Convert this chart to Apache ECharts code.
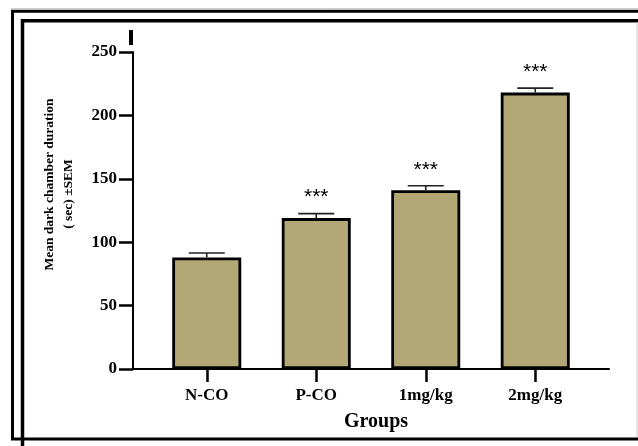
<!DOCTYPE html>
<html>
<head>
<meta charset="utf-8">
<script src="https://cdn.jsdelivr.net/npm/echarts@6/dist/echarts.min.js"></script>
<style>
html,body{margin:0;padding:0;background:#fff;}
#chart{width:638px;height:446px;}
</style>
</head>
<body>
<div id="chart"></div>
<script>
var categories = ['N-CO', 'P-CO', '1mg/kg', '2mg/kg'];
var means = [88, 119, 141, 218];
var sems = [3.5, 3.5, 3.5, 3.5];
var significance = ['', '***', '***', '***'];
var yTicks = [0, 50, 100, 150, 200, 250];

var SERIF = '"Liberation Serif","Times New Roman",serif';
var SANS = '"Liberation Sans",Arial,sans-serif';

var chart = echarts.init(document.getElementById('chart'), null, {renderer: 'canvas'});

var errData = categories.map(function (c, i) { return [i, means[i], sems[i], significance[i]]; });

var option = {
  animation: false,
  backgroundColor: '#fff',
  grid: [
    {left: 152, right: 48, top: 52, bottom: 77},
    {left: 133, right: 29, top: 52, bottom: 77}
  ],
  xAxis: [
    {
      type: 'category', gridIndex: 0, data: categories,
      axisLine: {show: false},
      axisTick: {show: true, alignWithLabel: true, length: 13, lineStyle: {color: '#000', width: 2.5}},
      axisLabel: {margin: 18, color: '#000', fontFamily: SERIF, fontWeight: 'bold', fontSize: 17},
      name: 'Groups', nameLocation: 'middle', nameGap: 43,
      nameTextStyle: {color: '#000', fontFamily: SERIF, fontWeight: 'bold', fontSize: 20, padding: [0, 0, 0, 10]}
    },
    {
      type: 'value', gridIndex: 1, min: 0, max: 1,
      axisLine: {show: true, lineStyle: {color: '#000', width: 2}},
      axisTick: {show: false}, axisLabel: {show: false}, splitLine: {show: false}
    }
  ],
  yAxis: [
    {type: 'value', gridIndex: 0, min: yTicks[0], max: yTicks[yTicks.length - 1], interval: 50, show: false},
    {
      type: 'value', gridIndex: 1, min: yTicks[0], max: yTicks[yTicks.length - 1], interval: 50,
      axisLine: {show: true, lineStyle: {color: '#000', width: 2}},
      axisTick: {show: true, inside: false, length: 14, lineStyle: {color: '#000', width: 2.5}},
      axisLabel: {margin: 16, color: '#000', fontFamily: SERIF, fontWeight: 'bold', fontSize: 17},
      splitLine: {show: false}
    }
  ],
  series: [
    {
      type: 'bar', xAxisIndex: 0, yAxisIndex: 0, data: means, barWidth: 69,
      itemStyle: {color: '#b3a875', borderColor: '#000', borderWidth: 2.8}
    },
    {
      type: 'custom', xAxisIndex: 0, yAxisIndex: 0, data: errData, z: 5,
      renderItem: function (params, api) {
        var x = api.value(0), m = api.value(1), s = api.value(2);
        var p0 = api.coord([x, m]);
        var p1 = api.coord([x, m + s]);
        var sig = errData[params.dataIndex][3];
        var half = 18;
        var st = {stroke: '#222', lineWidth: 1.6};
        return {
          type: 'group',
          children: [
            {type: 'line', shape: {x1: p0[0], y1: p0[1], x2: p1[0], y2: p1[1]}, style: st},
            {type: 'line', shape: {x1: p1[0] - half, y1: p1[1], x2: p1[0] + half, y2: p1[1]}, style: st},
            {type: 'text', x: p1[0], y: p1[1] - 16,
              style: {text: sig, textAlign: 'center', textVerticalAlign: 'middle', fill: '#000',
                font: '21px ' + SANS}}
          ]
        };
      }
    }
  ],
  graphic: [
    {type: 'polyline', shape: {points: [[638, 11.2], [12.5, 11.2], [12.5, 439], [638, 439]]},
      style: {stroke: '#000', lineWidth: 3, fill: null}, z: 10},
    {type: 'polyline', shape: {points: [[638, 20.8], [22.5, 20.8], [22.5, 446]]},
      style: {stroke: '#000', lineWidth: 3.5, fill: null}, z: 10},
    {type: 'line', shape: {x1: 11, y1: 8.5, x2: 638, y2: 8.5}, style: {stroke: '#cfcfcf', lineWidth: 1}, z: 10},
    {type: 'line', shape: {x1: 637, y1: 22, x2: 637, y2: 437}, style: {stroke: '#c8c8c8', lineWidth: 1}, z: 10},
    {type: 'rect', shape: {x: 129, y: 30, width: 4, height: 15}, style: {fill: '#000'}, z: 10},
    {type: 'text', x: 50, y: 184.5, rotation: Math.PI / 2,
      style: {text: 'Mean dark chamber duration', textAlign: 'center', textVerticalAlign: 'middle',
        fill: '#000', font: 'bold 13.5px ' + SERIF}, z: 10},
    {type: 'text', x: 69, y: 194, rotation: Math.PI / 2,
      style: {text: '( sec) \u00b1SEM', textAlign: 'center', textVerticalAlign: 'middle',
        fill: '#000', font: 'bold 13.5px ' + SERIF}, z: 10}
  ]
};
chart.setOption(option);
</script>
</body>
</html>
